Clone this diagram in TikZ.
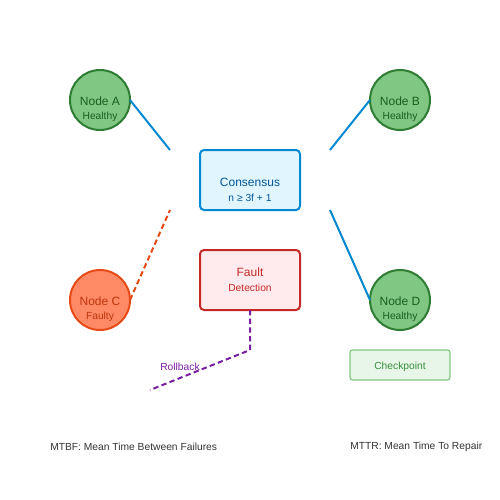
\documentclass[tikz,border=0pt]{standalone}
\usepackage{fontspec}
\setmainfont{Liberation Sans}
\definecolor{hfill}{HTML}{81C784}
\definecolor{hdraw}{HTML}{2E7D32}
\definecolor{htext}{HTML}{1B5E20}
\definecolor{ffill}{HTML}{FF8A65}
\definecolor{fdraw}{HTML}{E64A19}
\definecolor{ftext}{HTML}{BF360C}
\definecolor{cfill}{HTML}{E1F5FE}
\definecolor{cdraw}{HTML}{0288D1}
\definecolor{ctext}{HTML}{01579B}
\definecolor{dfill}{HTML}{FFEBEE}
\definecolor{ddraw}{HTML}{C62828}
\definecolor{pur}{HTML}{7B1FA2}
\definecolor{kfill}{HTML}{E8F5E9}
\definecolor{ktext}{HTML}{388E3C}
\definecolor{gtxt}{HTML}{333333}
\begin{document}
\begin{tikzpicture}[x=0.75pt,y=-0.75pt,
  circ/.style={circle,minimum size=60*0.75pt,inner sep=0pt,line width=1.5pt},
  healthy/.style={circ,fill=hfill,draw=hdraw},
  faulty/.style={circ,fill=ffill,draw=fdraw},
  bx/.style={rectangle,rounded corners=3pt,minimum width=100*0.75pt,minimum height=60*0.75pt,line width=1.5pt},
  big/.style={font=\fontsize{9}{10}\selectfont},
  small/.style={font=\fontsize{7.7}{9}\selectfont},
  link/.style={draw=cdraw,line width=1.5pt},
  dlink/.style={line width=1.5pt,dash pattern=on 4pt off 2.5pt},
]
\useasboundingbox (0,0) rectangle (500,500);
% circles
\node[healthy] (A) at (100,100) {};
\node[healthy] (B) at (400,100) {};
\node[faulty] (C) at (100,300) {};
\node[healthy] (D) at (400,300) {};
\foreach \n/\t/\s/\c in {A/Node A/Healthy/htext,B/Node B/Healthy/htext,C/Node C/Faulty/ftext,D/Node D/Healthy/htext}{
  \node[big,text=\c] (\n t) at ([yshift=-1.2pt]\n.center) {\t};
  \node[small,text=\c] (\n s) at ([yshift=-13pt]\n.center) {\s};
}
% boxes
\node[bx,fill=cfill,draw=cdraw] (cons) at (250,180) {};
\node[big,text=ctext] (const) at (250,182.5) {Consensus};
\node[small,text=ctext] (conss) at (250,197.5) {n ≥ 3f + 1};
\node[bx,fill=dfill,draw=ddraw] (fault) at (250,280) {};
\node[big,text=ddraw] (faultt) at (250,272) {Fault};
\node[small,text=ddraw] (faults) at (250,287.5) {Detection};
\node[rectangle,rounded corners=2pt,minimum width=100*0.75pt,minimum height=30*0.75pt,fill=kfill,draw=hfill,line width=0.9pt] (chk) at (400,365) {};
\node[small,text=ktext] (chkt) at (400,367) {Checkpoint};
% connector ends
\coordinate (a1) at (130,100); \coordinate (a2) at (170,150);
\coordinate (b1) at (370,100); \coordinate (b2) at (330,150);
\coordinate (d1) at (370,300); \coordinate (d2) at (330,210);
\coordinate (c1) at (130,300); \coordinate (c2) at (170,210);
\coordinate (r1) at (250,310); \coordinate (r2) at (250,350); \coordinate (r3) at (150,390);
\draw[link] (a1) -- (a2);
\draw[link] (b1) -- (b2);
\draw[link] (d1) -- (d2);
\draw[dlink,draw=fdraw] (c1) -- (c2);
\draw[dlink,draw=pur] (r1) -- (r2) -- (r3);
\node[small,text=pur] (rb) at (180,367) {Rollback};
\node[small,text=gtxt,anchor=west,inner sep=0pt] (mtbf) at (50,447) {MTBF: Mean Time Between Failures};
\node[small,text=gtxt,anchor=west,inner sep=0pt] (mttr) at (350,447) {MTTR: Mean Time To Repair};
\end{tikzpicture}
\end{document}
